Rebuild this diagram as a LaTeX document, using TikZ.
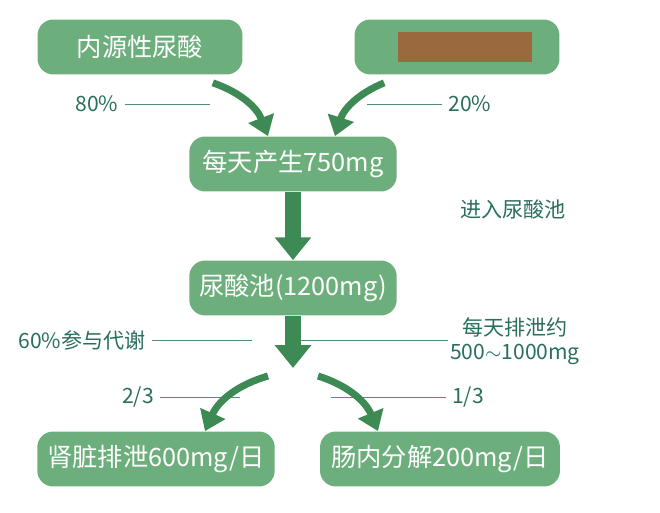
\documentclass[tikz,border=0pt]{standalone}
\usepackage{fontspec}
\setmainfont{Noto Sans CJK SC}
\usetikzlibrary{positioning,arrows.meta}
\definecolor{boxgreen}{HTML}{6DAF7C}
\definecolor{textteal}{HTML}{2A6E5E}
\definecolor{arrowgreen}{HTML}{3E8A55}
\definecolor{brownbar}{HTML}{9A6A3E}
\tikzset{
  greenbox/.style={fill=boxgreen, rounded corners=9pt, text=white, font=\Large, minimum height=1.1cm, inner sep=0pt},
  lbl/.style={text=textteal, font=\large},
  guide/.style={draw=textteal!80, line width=0.5pt},
  bigarrow/.style={draw=arrowgreen, line width=9pt, -{Triangle[width=20pt,length=13pt]}},
  curvearrow/.style={draw=arrowgreen, line width=4pt, -{Triangle[width=15pt,length=11pt]}}
}
\begin{document}
\begin{tikzpicture}[x=0.02cm, y=-0.02cm]
    \useasboundingbox (0,0) rectangle (660,513);

    % Sources
    \node[greenbox, minimum width=4.1cm] (endo) at (140,47) {内源性尿酸};
    \node[greenbox, minimum width=4.1cm] (food) at (457,47) {};
    \node[fill=brownbar, minimum width=2.7cm, minimum height=0.6cm, inner sep=0pt] (bar) at (465,47) {};

    % Production and pool
    \node[greenbox, minimum width=4.15cm] (daily) at (293,164) {每天产生750mg};
    \node[greenbox, minimum width=4.15cm] (pool) at (293,288) {尿酸池(1200mg)};

    % Outputs
    \node[greenbox, minimum width=4.75cm] (kidney) at (156,459) {肾脏排泄600mg/日};
    \node[greenbox, minimum width=4.8cm] (gut) at (440,459) {肠内分解200mg/日};

    % Labels
    \node[lbl] (p80) at (97,104) {80\%};
    \node[lbl] (p20) at (470,104) {20\%};
    \node[lbl] (enter) at (513,210) {进入尿酸池};
    \node[lbl] (meta) at (82,340) {60\%参与代谢};
    \node[lbl] (excr) at (515,327) {每天排泄约};
    \node[lbl] (range) at (515,354) {500$\sim$1000mg};
    \node[lbl] (twothird) at (138,397) {2/3};
    \node[lbl] (onethird) at (468,397) {1/3};

    % Guide lines
    \draw[guide] (p80.east) -- ++(85,0);
    \draw[guide] (p20.west) -- ++(-75,0);
    \draw[guide] (meta.east) -- ++(100,0);
    \draw[guide] (excr.west |- 0,340) ++(-8,0) -- (300,340);
    \draw[guide] (twothird.east) -- ++(80,0);
    \draw[guide] (onethird.west) -- ++(-115,0);

    % Arrows
    \coordinate (split) at (293,368);
    \draw[curvearrow] (endo.south east) ++(-30,8) to[bend left=25] (daily.north -| 268,0);
    \draw[curvearrow] (food.south west) ++(30,8) to[bend right=25] (daily.north -| 335,0);
    \draw[bigarrow] (daily) -- (pool);
    \draw[bigarrow] (pool.south) -- (split);
    \draw[curvearrow] (split) ++(-25,8) to[bend right=25] (kidney.north -| 205,0);
    \draw[curvearrow] (split) ++(25,8) to[bend left=25] (gut.north -| 378,0);
\end{tikzpicture}
\end{document}
